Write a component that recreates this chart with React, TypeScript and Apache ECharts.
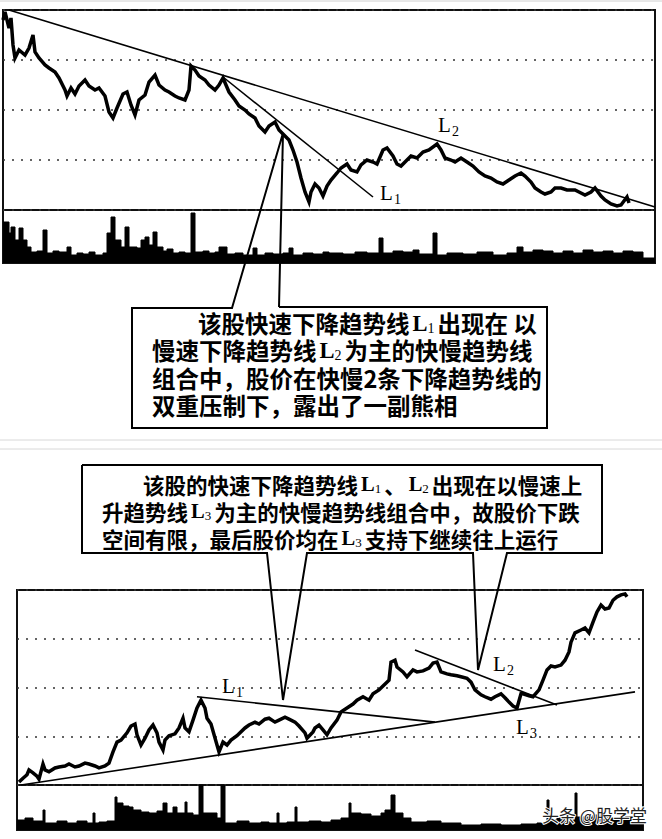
import React, { useEffect, useRef } from 'react';
import * as echarts from 'echarts';

// ---------- DATA ----------
// Upper chart: [trading day, price]
const topPrice: [number, number][] = [
  [0, 13.6], [1, 13.92], [3, 13.28], [4, 13.68], [5, 12.6], [6, 12.08], [8, 12.4], [11, 12.2], [13, 12.48], [15, 13.0],
  [16, 12.32], [18, 12.08], [21, 11.8], [23, 11.68], [26, 11.52], [28, 11.28], [31, 10.8], [32, 10.56], [34, 10.88], [36, 10.64],
  [38, 10.96], [41, 11.2], [43, 10.96], [46, 10.8], [48, 10.88], [51, 10.56], [53, 9.92], [55, 9.68], [57, 10.08], [60, 10.64],
  [62, 10.72], [64, 10.2], [66, 9.8], [68, 10.4], [71, 10.6], [73, 11.12], [76, 11.4], [78, 11.0], [81, 10.8], [83, 10.72],
  [86, 10.56], [88, 10.48], [91, 10.4], [93, 10.8], [94, 11.76], [96, 11.6], [98, 11.36], [101, 11.2], [103, 11.0], [106, 10.8],
  [108, 11.0], [110, 11.28], [113, 10.72], [116, 10.4], [118, 10.16], [121, 10.0], [123, 9.84], [126, 9.68], [128, 9.36], [131, 9.12],
  [133, 9.36], [136, 9.52], [138, 9.2], [141, 8.96], [143, 8.8], [145, 8.4], [147, 7.92], [149, 7.28], [151, 6.72], [153, 6.32],
  [154, 6.72], [156, 7.04], [158, 6.88], [160, 6.56], [162, 6.96], [164, 7.2], [167, 7.48], [169, 7.68], [172, 7.84], [174, 7.6],
  [177, 7.52], [179, 7.8], [182, 8.0], [185, 7.92], [187, 7.84], [190, 8.4], [192, 8.48], [195, 8.16], [197, 7.84], [199, 7.76],
  [202, 8.0], [204, 8.16], [207, 8.08], [210, 8.32], [213, 8.4], [217, 8.64], [219, 8.4], [221, 8.08], [224, 8.0], [226, 7.92],
  [229, 8.08], [232, 7.92], [235, 7.76], [238, 7.52], [241, 7.36], [244, 7.28], [247, 7.12], [250, 7.04], [253, 7.2], [256, 7.36],
  [259, 7.48], [261, 7.36], [264, 7.12], [266, 6.88], [269, 6.72], [271, 6.64], [274, 6.72], [276, 6.88], [279, 6.88], [282, 6.8],
  [286, 6.8], [288, 6.72], [291, 6.6], [294, 6.72], [296, 6.88], [299, 6.56], [301, 6.4], [304, 6.24], [307, 6.16], [309, 6.2],
  [312, 6.52], [313, 6.28]
];
const topVolume: [number, number][] = [
  [0, 41], [3, 30], [4, 36], [6, 23], [8, 35], [10, 23], [12, 16], [14, 11], [17, 12], [20, 33], [22, 10], [25, 12], [28, 11],
  [32, 16], [34, 8], [37, 10], [40, 9], [43, 11], [46, 8], [50, 10], [52, 30], [54, 46], [56, 23], [59, 16], [61, 36], [63, 16],
  [67, 15], [69, 23], [71, 26], [73, 18], [75, 31], [77, 16], [80, 12], [82, 14], [85, 10], [88, 11], [91, 10], [94, 50], [96, 11],
  [100, 12], [103, 10], [106, 11], [108, 16], [112, 9], [116, 10], [120, 8], [125, 15], [127, 8], [131, 10], [135, 9], [140, 10],
  [143, 15], [145, 8], [150, 10], [155, 9], [160, 11], [163, 10], [170, 9], [176, 11], [182, 10], [188, 25], [190, 10], [195, 12],
  [200, 11], [205, 13], [208, 9], [215, 30], [217, 8], [222, 10], [230, 9], [237, 11], [245, 8], [252, 10], [257, 16], [260, 11],
  [265, 13], [270, 12], [275, 10], [280, 12], [285, 10], [290, 13], [295, 11], [300, 12], [305, 10], [310, 12], [315, 11], [320, 5],
  [326, 5]
];
const topL1: [number, number][] = [[110, 11.32], [185, 6.52]];
const topL2: [number, number][] = [[3, 14.0], [326, 6.12]];

// Lower chart: [trading day, price]
const bottomPrice: [number, number][] = [
  [1, 4.06], [3, 4.14], [5, 4.21], [6, 4.31], [8, 4.25], [10, 4.18], [11, 4.12], [13, 4.43], [14, 4.31], [16, 4.27],
  [19, 4.35], [21, 4.37], [24, 4.39], [26, 4.43], [29, 4.37], [31, 4.39], [34, 4.45], [36, 4.43], [39, 4.39], [41, 4.35],
  [44, 4.39], [46, 4.45], [48, 4.68], [50, 4.88], [52, 4.92], [55, 5.07], [57, 5.21], [59, 5.25], [60, 5.03], [62, 4.82],
  [64, 4.96], [66, 5.13], [68, 5.23], [70, 5.07], [71, 4.88], [73, 4.72], [74, 4.92], [76, 5.01], [79, 5.05], [81, 5.17],
  [83, 5.37], [84, 5.17], [86, 5.09], [88, 5.33], [90, 5.58], [92, 5.74], [94, 5.58], [95, 5.37], [97, 5.25], [100, 4.82],
  [101, 4.68], [103, 4.88], [105, 4.82], [107, 4.92], [110, 5.01], [111, 5.05], [114, 5.17], [116, 5.23], [119, 5.29], [121, 5.25],
  [124, 5.35], [126, 5.37], [129, 5.29], [131, 5.33], [134, 5.39], [136, 5.35], [139, 5.29], [141, 5.21], [144, 5.07], [145, 4.96],
  [148, 5.09], [149, 5.17], [151, 5.23], [153, 5.13], [155, 5.03], [157, 5.17], [160, 5.33], [162, 5.5], [165, 5.58], [168, 5.66],
  [170, 5.74], [173, 5.81], [176, 5.74], [178, 5.87], [181, 5.95], [183, 6.03], [186, 6.15], [187, 6.52], [189, 6.56], [190, 6.42],
  [193, 6.32], [195, 6.22], [198, 6.36], [200, 6.32], [203, 6.34], [206, 6.4], [208, 6.5], [210, 6.52], [212, 6.32], [215, 6.28],
  [217, 6.26], [220, 6.24], [222, 6.22], [225, 6.19], [227, 6.11], [229, 5.95], [232, 5.85], [234, 5.81], [237, 5.76], [239, 5.81],
  [242, 5.87], [244, 5.79], [246, 5.7], [248, 5.62], [250, 5.58], [252, 5.87], [253, 5.87], [256, 5.83], [258, 5.81], [261, 5.95],
  [263, 6.15], [265, 6.36], [267, 6.44], [269, 6.42], [272, 6.46], [274, 6.56], [276, 6.73], [277, 6.93], [279, 7.12], [282, 7.18],
  [284, 7.22], [286, 7.12], [288, 7.34], [290, 7.55], [292, 7.69], [294, 7.61], [296, 7.63], [298, 7.79], [300, 7.86], [302, 7.9],
  [304, 7.92], [305, 7.86]
];
const bottomVolume: [number, number][] = [
  [0, 10], [4, 12], [8, 9], [13, 20], [14, 7], [20, 9], [25, 7], [30, 9], [35, 7], [38, 17], [39, 7], [41, 8], [45, 9],
  [49, 33], [50, 27], [53, 24], [56, 23], [58, 20], [62, 18], [66, 17], [70, 19], [73, 27], [75, 17], [78, 23], [80, 17],
  [84, 28], [85, 17], [88, 15], [91, 45], [93, 17], [97, 17], [100, 12], [102, 45], [104, 7], [110, 9], [116, 7], [122, 8],
  [126, 7], [130, 17], [131, 7], [135, 8], [139, 23], [140, 8], [146, 9], [152, 8], [157, 10], [162, 12], [166, 27], [167, 17],
  [172, 16], [177, 14], [182, 17], [184, 20], [187, 35], [189, 17], [193, 12], [197, 8], [205, 9], [212, 7], [222, 5], [232, 6],
  [242, 5], [252, 6], [260, 7], [265, 30], [266, 10], [270, 12], [275, 10], [279, 37], [280, 13], [288, 15], [296, 12], [304, 13],
  [309, 7], [313, 7]
];
const bottomL1: [number, number][] = [[90, 5.81], [209, 5.29]];
const bottomL2: [number, number][] = [[199, 6.77], [270, 5.64]];
const bottomL3: [number, number][] = [[2, 4.0], [309, 5.91]];

const topNote: string[] = [
  '该股快速下降趋势线{L|L}{s|1}出现在 以',
  '慢速下降趋势线{L|L}{s|2}为主的快慢趋势线',
  '组合中，股价在快慢2条下降趋势线的',
  '双重压制下，露出了一副熊相'
];
const bottomNote: string[] = [
  '该股的快速下降趋势线{L|L}{s|1}、{L|L}{s|2}出现在以慢速上',
  '升趋势线{L|L}{s|3}为主的快慢趋势线组合中，故股价下跌',
  '空间有限，最后股价均在{L|L}{s|3}支持下继续往上运行'
];
const watermark = '头条 @股学堂';

// ---------- CHART ----------
const CJK = '"Noto Sans CJK SC", sans-serif';
const SERIF = '"Liberation Serif", "DejaVu Serif", serif';

function richText(x: number, y: number, text: string, size: number, lh: number) {
  return {
    type: 'text', x, y, z: 100,
    style: {
      text, fill: '#000', fontFamily: CJK, fontSize: size, fontWeight: 'bold', lineHeight: lh,
      align: 'left', verticalAlign: 'middle', textAlign: 'left', textVerticalAlign: 'middle',
      rich: {
        L: { fontFamily: SERIF, fontSize: size - 1, fontWeight: 'bold', fill: '#000', lineHeight: lh, padding: [0, 0, 0, 3] },
        s: { fontFamily: SERIF, fontSize: Math.round(size * 0.6), fill: '#000', lineHeight: lh, verticalAlign: 'bottom', padding: [0, 3, 0, 0] }
      }
    }
  };
}

function lineLabel(x: number, y: number, sub: string) {
  return {
    type: 'group', z: 100,
    children: [
      { type: 'text', x, y, z: 100, style: { text: 'L', fill: '#000', fontFamily: SERIF, fontSize: 21, lineHeight: 18, align: 'left', verticalAlign: 'bottom', textAlign: 'left', textVerticalAlign: 'bottom' } },
      { type: 'text', x: x + 14, y: y + 3, z: 100, style: { text: sub, fill: '#000', fontFamily: SERIF, fontSize: 14, lineHeight: 12, align: 'left', verticalAlign: 'bottom', textAlign: 'left', textVerticalAlign: 'bottom' } }
    ]
  };
}

function trend(data: [number, number][], xi: number) {
  return {
    type: 'line', xAxisIndex: xi, yAxisIndex: xi, data, showSymbol: false, symbol: 'none',
    lineStyle: { color: '#000', width: 1.6 }, z: 4, silent: true
  };
}

export default function App() {
  const ref = useRef<HTMLDivElement>(null);
  useEffect(() => {
    if (!ref.current) return;
    const chart = echarts.init(ref.current, null, { renderer: 'svg' });
    const gridBase = { show: true, borderColor: '#111', borderWidth: 2, backgroundColor: 'transparent' };
    const dotted = { show: true, lineStyle: { color: '#333', width: 1.5, type: [2, 7] } };
    const hiddenY = { axisLine: { show: false }, axisTick: { show: false }, axisLabel: { show: false } };
    const graphic: any[] = [
      { type: 'line', z: 50, shape: { x1: 0, y1: 1, x2: 662, y2: 1 }, style: { stroke: '#d0d0d0', lineWidth: 1 } },
      { type: 'line', z: 50, shape: { x1: 0, y1: 440, x2: 662, y2: 440 }, style: { stroke: '#d8d8d8', lineWidth: 1 } },
      { type: 'line', z: 50, shape: { x1: 0, y1: 449, x2: 662, y2: 449 }, style: { stroke: '#d8d8d8', lineWidth: 1 } },
      {
        type: 'polyline', z: 90,
        shape: { points: [[279, 307], [283, 133], [232, 308], [132, 308], [132, 428], [547, 428], [547, 307], [279, 307]] },
        style: { stroke: '#000', lineWidth: 2, fill: null }
      },
      {
        type: 'polyline', z: 90,
        shape: { points: [[82, 465], [602, 465], [602, 553], [507, 553], [478, 670], [473, 553], [307, 553], [283, 700], [267, 553], [82, 553], [82, 465]] },
        style: { stroke: '#000', lineWidth: 2, fill: null }
      },
      richText(198, 323, topNote[0], 23.5, 24),
      richText(152, 350, topNote[1], 23.5, 24),
      richText(152, 378, topNote[2], 23.5, 24),
      richText(152, 405, topNote[3], 23.5, 24),
      richText(143, 484, bottomNote[0], 21.5, 22),
      richText(102, 511, bottomNote[1], 21.5, 22),
      richText(102, 538, bottomNote[2], 21.5, 22),
      lineLabel(438, 134, '2'),
      lineLabel(380, 202, '1'),
      lineLabel(222, 695, '1'),
      lineLabel(493, 673, '2'),
      lineLabel(516, 736, '3'),
      {
        type: 'text', x: 542, y: 814, z: 100,
        style: { text: watermark, fill: '#222', stroke: '#fff', lineWidth: 2, fontFamily: CJK, fontSize: 17, align: 'left', verticalAlign: 'middle', textAlign: 'left', textVerticalAlign: 'middle' }
      }
    ];
    chart.setOption({
      animation: false,
      backgroundColor: '#fff',
      grid: [
        { ...gridBase, left: 3, top: 10, width: 652, height: 200 },
        { ...gridBase, left: 3, top: 210, width: 652, height: 53 },
        { ...gridBase, left: 17, top: 590, width: 626, height: 195 },
        { ...gridBase, left: 17, top: 785, width: 626, height: 45 }
      ],
      xAxis: [
        { gridIndex: 0, type: 'value', min: 0, max: 326, show: false },
        { gridIndex: 1, type: 'value', min: 0, max: 326, show: false },
        { gridIndex: 2, type: 'value', min: 0, max: 313, show: false },
        { gridIndex: 3, type: 'value', min: 0, max: 313, show: false }
      ],
      yAxis: [
        { gridIndex: 0, type: 'value', min: 6, max: 14, interval: 2, ...hiddenY, splitLine: dotted },
        { gridIndex: 1, type: 'value', min: 0, max: 53, ...hiddenY, splitLine: { show: false } },
        { gridIndex: 2, type: 'value', min: 4, max: 8, interval: 1, ...hiddenY, splitLine: dotted },
        { gridIndex: 3, type: 'value', min: 0, max: 45, ...hiddenY, splitLine: { show: false } }
      ],
      series: [
        { type: 'line', xAxisIndex: 0, yAxisIndex: 0, data: topPrice, showSymbol: false, symbol: 'none', lineStyle: { color: '#000', width: 3.5, join: 'miter' }, z: 3 },
        trend(topL1, 0),
        trend(topL2, 0),
        { type: 'line', xAxisIndex: 1, yAxisIndex: 1, data: topVolume, step: 'end', showSymbol: false, symbol: 'none', lineStyle: { color: '#000', width: 1 }, areaStyle: { color: '#000', opacity: 1 } },
        { type: 'line', xAxisIndex: 2, yAxisIndex: 2, data: bottomPrice, showSymbol: false, symbol: 'none', lineStyle: { color: '#000', width: 3.5, join: 'miter' }, z: 3 },
        trend(bottomL1, 2),
        trend(bottomL2, 2),
        trend(bottomL3, 2),
        { type: 'line', xAxisIndex: 3, yAxisIndex: 3, data: bottomVolume, step: 'end', showSymbol: false, symbol: 'none', lineStyle: { color: '#000', width: 1 }, areaStyle: { color: '#000', opacity: 1 } }
      ],
      graphic
    });
    return () => chart.dispose();
  }, []);
  return <div ref={ref} style={{ position: 'absolute', left: 0, top: 0, width: 662, height: 839, background: '#fff' }} />;
}
